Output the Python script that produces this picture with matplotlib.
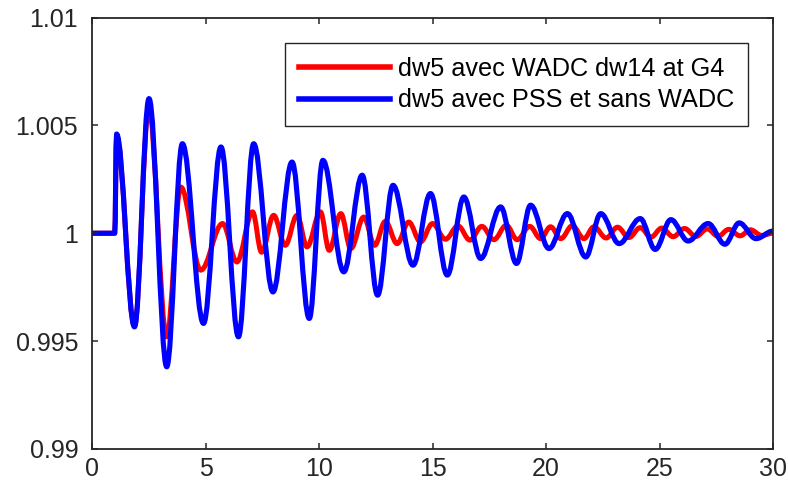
import numpy as np
import matplotlib
matplotlib.use('Agg')
import matplotlib.pyplot as plt
from matplotlib.path import Path
from matplotlib.patches import PathPatch
from matplotlib.lines import Line2D

plt.rcParams['font.family'] = ['Liberation Sans', 'DejaVu Sans']

# peaks / troughs
t_red = [0, 1.0, 1.08, 1.87, 2.5, 3.29, 3.91, 4.79, 5.75, 6.38, 7.07, 7.47,
         8.0, 8.51, 9.03, 9.47, 10.06, 10.45, 10.96, 11.4, 11.97, 12.45, 12.92,
         13.44, 13.95, 14.47, 15.0, 15.57, 16.12, 16.65, 17.17, 17.7, 18.25,
         18.73, 19.28, 19.76, 20.2, 20.65, 21.16, 21.67, 22.11, 22.65, 23.15,
         23.65, 24.15, 24.62, 25.1, 25.6, 26.1, 26.6, 27.1, 27.58, 28.05,
         28.55, 29.0, 29.5, 30]
y_red = [1, 1, 1.0045, 0.99570, 1.0058, 0.99520, 1.00214, 0.99829,
         1.00045, 0.99867, 1.00099, 0.99912, 1.00083, 0.99944, 1.00083,
         0.99937, 1.00099, 0.99921, 1.00091, 0.99929, 1.00075, 0.99944,
         1.00055, 0.99952, 1.00052, 0.99960, 1.00045, 0.99972, 1.00034,
         0.99968, 1.00032, 0.99970, 1.00037, 0.99970, 1.00032, 0.99975,
         1.00030, 0.99975, 1.00035, 0.99975, 1.00030, 0.99978, 1.00028,
         0.99980, 1.00026, 0.99982, 1.00024, 0.99984, 1.00022, 0.99985,
         1.00020, 0.99986, 1.00018, 0.99988, 1.00016, 0.99990, 1.00000]

t_blue = [0, 1.0, 1.08, 1.87, 2.51, 3.29, 3.98, 4.91, 5.68, 6.45, 7.12,
          7.97, 8.81, 9.57, 10.17, 11.09, 11.9, 12.58, 13.26, 14.14, 14.91,
          15.65, 16.38, 17.12, 18.0, 18.7, 19.32, 20.13, 20.94, 21.75, 22.41,
          23.22, 24.15, 24.81, 25.5, 26.26, 27.14, 27.88, 28.51, 29.25, 30]
y_blue = [1, 1, 1.0046, 0.99566, 1.00624, 0.99381, 1.00415, 0.99582,
          1.00400, 0.99520, 1.00415, 0.99728, 1.00330, 0.99605, 1.00338,
          0.99821, 1.00269, 0.99713, 1.00222, 0.99852, 1.00184, 0.99806,
          1.00168, 0.99883, 1.00122, 0.99860, 1.00130, 0.99929, 1.00091,
          0.99890, 1.00091, 0.99952, 1.00068, 0.99925, 1.00063, 0.99964,
          1.00045, 0.99949, 1.00048, 0.99975, 1.00010]

labels = ['dw5 avec WADC dw14 at G4', 'dw5 avec PSS et sans WADC']
xticks = [0, 5, 10, 15, 20, 25, 30]
yticks = [0.99, 0.995, 1.0, 1.005, 1.01]
yticklabels = ['0.99', '0.995', '1', '1.005', '1.01']


def smooth_path(t, y, k=0.3634):
    # cubic segments with flat tangents at each extremum (sine-like swing)
    verts = [(t[0], y[0])]
    codes = [Path.MOVETO]
    for i in range(1, len(t)):
        dt = t[i] - t[i - 1]
        verts += [(t[i - 1] + k * dt, y[i - 1]), (t[i] - k * dt, y[i]), (t[i], y[i])]
        codes += [Path.CURVE4] * 3
    return Path(verts, codes)


fig = plt.figure(figsize=(7.88, 4.96), dpi=100)
ax = fig.add_axes([0.1168, 0.0948, 0.8642, 0.8699])

ax.add_patch(PathPatch(smooth_path(t_red, y_red), fill=False, edgecolor=(1, 0, 0),
                       lw=3.6, joinstyle='round', capstyle='butt'))
ax.add_patch(PathPatch(smooth_path(t_blue, y_blue), fill=False, edgecolor=(0, 0, 1),
                       lw=3.7, joinstyle='round', capstyle='butt'))

ax.set_xlim(0, 30)
ax.set_ylim(0.99, 1.01)
ax.set_xticks(xticks)
ax.set_xticklabels([str(x) for x in xticks])
ax.set_yticks(yticks)
ax.set_yticklabels(yticklabels)
ax.tick_params(direction='in', length=4, width=1.1, top=True, right=True,
               labelsize=18, colors='#262626')
ax.tick_params(axis='x', pad=6)
ax.tick_params(axis='y', pad=10)
for s in ax.spines.values():
    s.set_linewidth(1.3)
    s.set_color('#262626')

handles = [Line2D([], [], color=(1, 0, 0), lw=4), Line2D([], [], color=(0, 0, 1), lw=4)]
leg = ax.legend(handles, labels, loc='upper right', bbox_to_anchor=(0.963, 0.941),
                borderaxespad=0, fontsize=18.2, handlelength=3.6, handletextpad=0.3,
                labelspacing=0.3, borderpad=0.55, fancybox=False, framealpha=1)
leg.get_frame().set_edgecolor('#262626')
leg.get_frame().set_linewidth(1.0)

fig.savefig('out.png', dpi=100)
